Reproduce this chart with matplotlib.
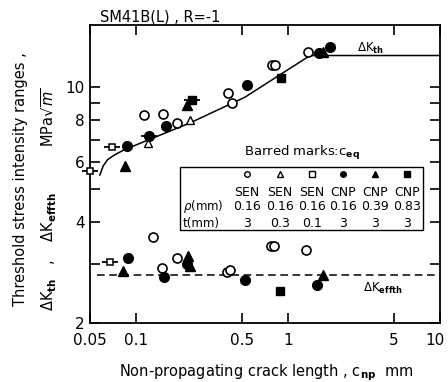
import numpy as np
import matplotlib.pyplot as plt
import matplotlib.transforms as mtransforms
from matplotlib.patches import Rectangle

# dK_th curve (upper solid line) and dK_effth level
curve_c = [0.058, 0.061, 0.065, 0.072, 0.082, 0.10, 0.227, 0.52, 1.40, 10.0]
curve_k = [5.50, 5.85, 6.10, 6.30, 6.50, 6.75, 7.85, 9.35, 12.44, 12.44]
keff_level = 2.77
keff_c = [0.0556, 10.0]

# series: open circle (SEN, t=3)
oc_c = [0.113, 0.151, 0.187, 0.404, 0.43, 0.787, 0.82, 1.36,
        0.130, 0.149, 0.187, 0.40, 0.417, 0.776, 0.81, 1.32]
oc_k = [8.27, 8.33, 7.84, 9.6, 8.97, 11.68, 11.68, 12.76,
        3.6, 2.92, 3.13, 2.84, 2.88, 3.39, 3.39, 3.3]
# open triangle (SEN, t=0.3)
ot_c = [0.120, 0.227]
ot_k = [6.85, 8.0]
# open square (SEN, t=0.1)
os_c = [0.050, 0.0698, 0.0677]
os_k = [5.67, 6.67, 3.04]
# filled circle (CNP, rho=0.16)
fc_c = [0.0876, 0.122, 0.158, 0.54, 1.60, 1.90,
        0.089, 0.153, 0.217, 0.523, 1.56]
fc_k = [6.71, 7.18, 7.68, 10.2, 12.67, 13.2,
        3.13, 2.75, 3.0, 2.68, 2.59]
# filled triangle (CNP, rho=0.39)
ft_c = [0.085, 0.217, 1.70, 0.082, 0.22, 0.227, 1.70]
ft_k = [5.86, 8.9, 12.76, 2.86, 3.16, 2.96, 2.77]
# filled square (CNP, rho=0.83)
fs_c = [0.234, 0.90, 0.889]
fs_k = [9.15, 10.7, 2.49]
# barred marks (c_eq)
bar_c = [0.050, 0.0698, 0.122, 0.234, 0.0677]
bar_k = [5.67, 6.67, 7.18, 9.15, 3.04]

legend_marks = ['o', '^', 's', 'o', '^', 's']
legend_fill = [False, False, False, True, True, True]
legend_spec = ['SEN', 'SEN', 'SEN', 'CNP', 'CNP', 'CNP']
legend_rho = ['0.16', '0.16', '0.16', '0.16', '0.39', '0.83']
legend_t = ['3', '0.3', '0.1', '3', '3', '3']

fig = plt.figure(figsize=(4.48, 3.82), dpi=100)
ax = fig.add_axes([0.201, 0.154, 0.781, 0.780])
ax.set_xscale('log')
ax.set_yscale('log')
ax.set_xlim(0.05, 10)
ax.set_ylim(2, 15.3)

ax.plot(curve_c, curve_k, color='black', lw=1.1)
ax.plot(keff_c, [keff_level, keff_level], color='black', lw=1.1, ls=(0, (5, 3)))

ms = 6.5
ax.plot(bar_c, bar_k, ls='none', marker='_', ms=11, mew=1.3, color='black',
        zorder=2, clip_on=False)
ax.plot(oc_c, oc_k, ls='none', marker='o', ms=ms, mfc='white', mec='black', mew=1.2, zorder=3)
ax.plot(ot_c, ot_k, ls='none', marker='^', ms=ms - 1, mfc='white', mec='black', mew=1.0, zorder=3)
ax.plot(os_c, os_k, ls='none', marker='s', ms=ms - 1.5, mfc='white', mec='black', mew=1.1,
        zorder=3, clip_on=False)
ax.plot(fc_c, fc_k, ls='none', marker='o', ms=ms + 0.5, color='black', zorder=3)
ax.plot(ft_c, ft_k, ls='none', marker='^', ms=ms, color='black', zorder=3)
ax.plot(fs_c, fs_k, ls='none', marker='s', ms=ms - 1, color='black', zorder=3)

# ticks
ax.set_xticks([0.05, 0.1, 0.5, 1, 5, 10])
ax.set_xticklabels(['0.05', '0.1', '0.5', '1', '5', '10'])
ax.set_xticks([], minor=True)
ax.set_yticks([2, 3, 4, 5, 6, 7, 8, 9, 10])
ax.set_yticklabels(['2', '', '4', '', '6', '', '8', '', '10'])
ax.set_yticks([], minor=True)
ax.tick_params(direction='in', length=7, width=1.2, top=True, right=True,
               labelsize=11)
ax.tick_params(axis='x', pad=7)
ax.tick_params(axis='y', pad=4)
for s in ax.spines.values():
    s.set_linewidth(1.3)
# nudge the last x label so it stays inside the picture
last = ax.get_xticklabels()[-1]
last.set_transform(last.get_transform() +
                   mtransforms.ScaledTranslation(-0.05, 0, fig.dpi_scale_trans))

# annotations
ax.text(0.763, 0.923, r'$\Delta$K$_{\mathbf{th}}$', transform=ax.transAxes,
        fontsize=8.5, va='center')
ax.text(0.78, 0.117, r'$\Delta$K$_{\mathbf{effth}}$', transform=ax.transAxes,
        fontsize=8.5, va='center')
ax.text(0.606, 0.570, r'Barred marks:c$_{\mathbf{eq}}$', transform=ax.transAxes,
        fontsize=9.5, ha='center', va='center')

# legend table
ax.add_patch(Rectangle((0.257, 0.312), 0.694, 0.211, transform=ax.transAxes,
                       fill=False, lw=1.0, color='black', zorder=4))
col_x = [0.449, 0.543, 0.634, 0.723, 0.814, 0.906]
for i, x in enumerate(col_x):
    mfc = 'black' if legend_fill[i] else 'white'
    ax.plot([x], [0.500], transform=ax.transAxes, marker=legend_marks[i],
            ms=4, mfc=mfc, mec='black', mew=1.0, ls='none', clip_on=False)
    ax.text(x, 0.440, legend_spec[i], transform=ax.transAxes, fontsize=9,
            ha='center', va='center')
    ax.text(x, 0.393, legend_rho[i], transform=ax.transAxes, fontsize=9,
            ha='center', va='center')
    ax.text(x, 0.336, legend_t[i], transform=ax.transAxes, fontsize=9,
            ha='center', va='center')
ax.text(0.266, 0.393, r'$\rho$(mm)', transform=ax.transAxes, fontsize=8.5,
        ha='left', va='center')
ax.text(0.266, 0.336, 't(mm)', transform=ax.transAxes, fontsize=8.5,
        ha='left', va='center')

# labels
fig.text(0.223, 0.955, 'SM41B(L) , R=-1', fontsize=10.5, ha='left', va='center')
fig.text(0.595, 0.024, r'Non-propagating crack length , c$_{\mathbf{np}}$  mm',
         fontsize=10.5, ha='center', va='center')
fig.text(0.045, 0.53, 'Threshold stress intensity ranges ,', rotation=90,
         fontsize=10.5, ha='center', va='center')
fig.text(0.11, 0.48,
         r'$\Delta$K$_{\mathbf{th}}$   ,    $\Delta$K$_{\mathbf{effth}}$          MPa$\sqrt{m}$',
         rotation=90, fontsize=10.5, ha='center', va='center')

plt.savefig('out.png', dpi=100)
